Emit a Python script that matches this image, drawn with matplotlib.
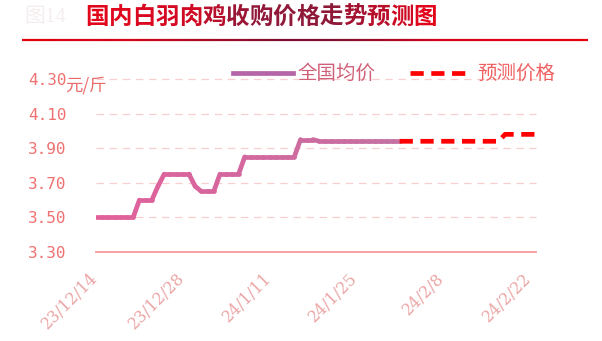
import numpy as np
import pandas as pd
import matplotlib
matplotlib.use("Agg")
import matplotlib.pyplot as plt
from matplotlib.collections import LineCollection
from matplotlib.colors import LinearSegmentedColormap
from matplotlib.transforms import ScaledTranslation
from matplotlib.lines import Line2D

plt.rcParams['font.family'] = ['Noto Sans CJK SC', 'DejaVu Sans']

# ---- data ----
start_date = "2023-12-14"
actual_prices = ([3.50] * 7 + [3.60] * 3 + [3.68] + [3.75] * 5 + [3.68] +
                 [3.65] * 3 + [3.75] * 4 + [3.85] * 9 + [3.95] * 3 + [3.94] * 14)
forecast_prices = [3.94] * 17 + [3.98] * 6
tick_labels = ["23/12/14", "23/12/28", "24/1/11", "24/1/25", "24/2/8", "24/2/22"]
y_ticks = [3.30, 3.50, 3.70, 3.90, 4.10, 4.30]
title = "国内白羽肉鸡收购价格走势预测图"
figure_no = "图14"
series_names = ["全国均价", "预测价格"]
unit = "元/斤"

n_days = len(actual_prices) + len(forecast_prices) - 1
dates = pd.date_range(start_date, periods=n_days, freq="D")
days = (dates - dates[0]).days.to_numpy()
x_actual = days[:len(actual_prices)]
x_forecast = days[len(actual_prices) - 1:]
tick_days = [(pd.to_datetime("20" + t, format="%Y/%m/%d") - dates[0]).days
             for t in tick_labels]

W, H = 602, 341
fig = plt.figure(figsize=(W / 100, H / 100), dpi=100)

# ---- header ----
fig.text(24 / W, 1 - 18 / H, figure_no, fontsize=15, color="#F4EEEE",
         ha="left", va="center", family=["Liberation Serif", "Noto Sans CJK SC"])

title_cmap = LinearSegmentedColormap.from_list(
    "title", [(0, "#E2061C"), (0.3, "#D00A24"), (0.45, "#921838"),
              (0.72, "#8E1838"), (0.88, "#C00C28"), (1, "#E2061C")])
title_fs = 16.9
adv = title_fs * 100 / 72
for i, ch in enumerate(title):
    fig.text((85 + i * adv) / W, 1 - 17 / H, ch, fontsize=title_fs,
             color=title_cmap(i / (len(title) - 1)), ha="left", va="center",
             fontweight="bold")

# gradient rule under the title
xs = np.linspace(22, 588, 300)
rule_cmap = LinearSegmentedColormap.from_list(
    "rule", [(0, "#E00010"), (0.2, "#D0061A"), (0.46, "#7E0E30"),
             (0.56, "#80102F"), (0.75, "#D8001A"), (1, "#E80012")])
segs = [[(xs[i] / W, 1 - 40 / H), (xs[i + 1] / W, 1 - 40 / H)] for i in range(len(xs) - 1)]
rule = LineCollection(segs, colors=rule_cmap(np.linspace(0, 1, len(segs))),
                      linewidths=1.6, transform=fig.transFigure)
fig.add_artist(rule)

# ---- axes ----
ax = fig.add_axes([96 / W, 1 - 252 / H, (536 - 96) / W, (252 - 79) / H])
ax.set_xlim(0, days[-1])
ax.set_ylim(3.30, 4.30)
for s in ax.spines.values():
    s.set_visible(False)
ax.axhline(3.30, color="#F49A9A", lw=1.3, zorder=1, clip_on=False)
for yv in y_ticks[1:]:
    ax.axhline(yv, color="#F9CECE", lw=0.9, dashes=(6, 4.5), zorder=1, clip_on=False)

ax.set_yticks(y_ticks, [f"{v:.2f}" for v in y_ticks])
ax.tick_params(axis="y", length=0, pad=21, labelsize=11.5, labelcolor="#F07070")
for lbl in ax.get_yticklabels():
    lbl.set_family("DejaVu Sans Mono")

ax.set_xticks(tick_days, tick_labels)
ax.tick_params(axis="x", length=0, pad=13, labelsize=11.5, labelcolor="#EBA5A5")
for lbl in ax.get_xticklabels():
    lbl.set_family("DejaVu Serif")
    lbl.set_rotation(45)
    lbl.set_rotation_mode("anchor")
    lbl.set_ha("right")
    lbl.set_va("top")
    lbl.set_transform(lbl.get_transform() + ScaledTranslation(-7 / 100, 0, fig.dpi_scale_trans))

# actual price line with a pink-to-mauve gradient
line_cmap = LinearSegmentedColormap.from_list("act", ["#E2609A", "#C470A2"])
pts = np.column_stack([x_actual, actual_prices])
act_segs = np.stack([pts[:-1], pts[1:]], axis=1)
act = LineCollection(act_segs, colors=line_cmap(np.linspace(0, 1, len(act_segs))),
                     linewidths=3.4, capstyle="round", joinstyle="round", zorder=3)
ax.add_collection(act)

# forecast line
ax.plot(x_forecast, forecast_prices, color="#FF0000", lw=3.4,
        dashes=(2.8, 1.6), zorder=3)

# unit label
fig.text(65 / W, 1 - 86 / H, unit, fontsize=12.5, color="#E86A6A",
         ha="left", va="center")

# legend
leg_y = 1 - 73 / H
fig.add_artist(Line2D([233 / W, 293 / W], [leg_y, leg_y], color="#B466A8", lw=3.4,
                      transform=fig.transFigure))
fig.text(297 / W, leg_y, series_names[0], fontsize=14, color="#D06078",
         ha="left", va="center")
fig.add_artist(Line2D([410 / W, 465 / W], [leg_y, leg_y], color="#FF0000", lw=3.4,
                      dashes=(2.8, 1.6), transform=fig.transFigure))
fig.text(477 / W, leg_y, series_names[1], fontsize=14, color="#F06060",
         ha="left", va="center")

fig.savefig("out.png", dpi=100, facecolor="white")
